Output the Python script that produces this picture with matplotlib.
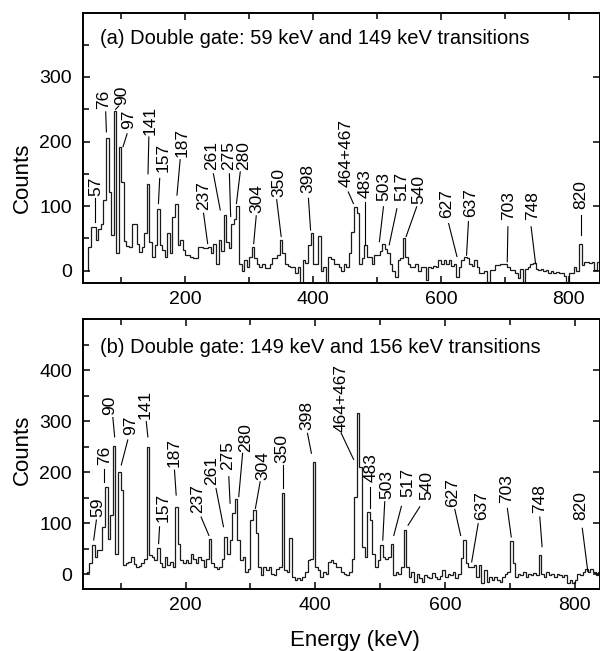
import numpy as np
import matplotlib
matplotlib.use("Agg")
import matplotlib.pyplot as plt
from matplotlib.ticker import MultipleLocator

plt.rcParams['font.family'] = ['Liberation Sans', 'DejaVu Sans']

# 4 keV bins, 48 .. 848 keV
edges = np.arange(48, 852, 4)

# (a) gate on 59 keV and 149 keV
counts_a = [
    37, 68, 67, 48, 64, 72, 110, 205, 122, 56,
    248, 27, 192, 137, 46, 38, 37, 73, 72, 42,
    29, 37, 58, 135, 45, 22, 40, 96, 40, 32,
    22, 58, 27, 83, 104, 40, 48, 32, 24, 24,
    22, 19, 19, 37, 36, 35, 35, 37, 27, 42,
    11, 47, 30, 86, 45, 35, 72, 80, 100, 10,
    0, 16, 6, 22, 37, 19, 10, 6, 11, 4,
    4, 11, 19, 19, 25, 47, 27, 11, 8, 6,
    6, -4, 6, -25, 16, 12, 40, 58, 11, 11,
    53, 0, 6, -25, 22, 18, 11, 11, 6, 0,
    11, 6, 27, 60, 99, 90, 11, 20, 40, 22,
    22, 11, 24, 25, 30, 42, 33, 27, 11, 0,
    -9, 16, 20, 50, 22, 11, 6, 6, 11, 0,
    6, 6, -14, 6, 4, 8, 6, 16, 11, 16,
    11, 16, 8, 11, -9, 6, 16, 21, 20, 11,
    8, 16, 6, -4, -4, 0, -17, 1, 1, 9,
    9, 11, 11, 11, 6, 1, 1, -4, -12, 3,
    -17, 3, 6, 11, 12, 3, 1, 3, 0, 1,
    -3, 0, -4, -2, -4, -3, -8, -17, -4, -3,
    6, 0, 42, 9, 14, 14, 12, 14, 1, 14,
]

# (b) gate on 149 keV and 156 keV
counts_b = [
    5, 21, 57, 34, 48, 47, 93, 170, 68, 116,
    251, 40, 200, 165, 18, 21, 24, 34, 20, 14,
    16, 21, 30, 250, 37, 34, 27, 52, 21, 14,
    34, 18, 24, 14, 132, 60, 27, 21, 27, 21,
    40, 30, 21, 34, 27, 14, 30, 68, 21, 14,
    11, 14, 30, 73, 40, 67, 119, 148, 67, 27,
    33, 5, 11, 106, 125, 80, 14, -2, 14, 8,
    14, 1, -2, 10, 14, 160, 8, 5, 70, -5,
    -12, -8, -12, -5, 5, 27, 30, 220, 14, 8,
    -5, 5, 0, 24, 27, 21, 14, 14, 5, 0,
    -2, 5, 30, 152, 315, 210, 54, 34, 122, 106,
    40, 14, 27, 57, 34, 30, 34, 60, -2, 5,
    1, 14, 86, 14, -5, 5, -15, 1, -8, -15,
    -2, -5, -8, 3, -5, -10, -3, 8, -5, 1,
    -2, 5, -8, 1, 31, 67, 21, 14, 14, 18,
    -5, 18, -18, 8, -15, -5, -12, -5, -12, -15,
    -5, 1, 5, 65, 21, -5, 1, -2, 5, -5,
    1, -2, 3, -2, 37, 1, -5, 5, -2, 1,
    -5, 1, -2, -5, -2, -18, -12, -18, -12, 1,
    -2, 5, 11, 5, 11, 5, -2, 5, 1, 5,
]

# peak labels: text, text x, text bottom y, leader start (x, y), leader end (x, y)
labels_a = [
    ("57", 59.4, 115, 59.4, 112, 59.4, 76),
    ("76", 72, 250, 75.5, 246, 76.6, 215),
    ("90", 101, 256, 96, 255, 91, 250),
    ("97", 111.5, 220, 109, 212, 102.6, 192),
    ("141", 145, 210, 143, 207, 141.7, 150),
    ("157", 166, 153, 160, 143, 158, 104),
    ("187", 195, 176, 192, 172, 187, 117),
    ("237", 228.6, 94, 228.6, 89, 235, 42),
    ("261", 241.0, 156, 244, 150, 254.7, 94),
    ("275", 267.5, 156, 269, 150, 271, 84),
    ("280", 292, 156, 286, 153, 280, 104),
    ("304", 312, 89, 311, 85, 307, 42),
    ("350", 346, 114, 343, 110, 350, 53),
    ("398", 392, 120, 392.7, 112, 396, 63),
    ("464+467", 452, 130, 455, 122, 463, 104),
    ("483", 481, 112, 481, 107, 481, 40),
    ("503", 510, 108, 510, 99, 503.7, 45),
    ("517", 538.7, 108, 531, 96, 519, 40),
    ("540", 565, 104, 562, 99, 545.5, 53),
    ("627", 609, 81, 612, 73, 625, 22),
    ("637", 646, 83, 643, 76, 640, 24),
    ("703", 706, 78, 704.7, 68, 703.7, 14),
    ("748", 743, 78, 741, 68, 748, 11),
    ("820", 819, 96, 819, 86, 819, 55),
]

labels_b = [
    ("59", 65, 112, 62.6, 106, 58.5, 67),
    ("76", 75.4, 214, 74, 207, 74, 181),
    ("90", 83, 312, 88, 307, 90.8, 269),
    ("97", 116, 272, 111, 263, 101, 214),
    ("141", 138, 305, 139.5, 299, 142, 269),
    ("157", 165, 103, 160, 93, 158.5, 60),
    ("187", 183, 210, 183, 204, 185.6, 155),
    ("237", 219, 119, 224, 112, 236, 76),
    ("261", 239.5, 174, 247, 168, 258.5, 93),
    ("275", 265, 204, 266.7, 191, 268.7, 139),
    ("280", 293, 240, 288, 237, 282, 152),
    ("304", 319, 184, 315, 181, 307.7, 129),
    ("350", 349, 217, 350, 214, 350, 168),
    ("398", 386.7, 282, 388, 276, 394, 237),
    ("464+467", 440, 279, 440, 276, 459, 225),
    ("483", 486, 181, 485, 171, 485, 129),
    ("503", 510.5, 148, 507, 142, 504, 67),
    ("517", 543, 151, 532.7, 133, 521, 76),
    ("540", 571.4, 145, 561, 132, 543, 96),
    ("627", 611.7, 132, 615, 127, 624, 76),
    ("637", 656.6, 106, 651, 99, 641, 24),
    ("703", 695, 139, 696, 129, 702, 73),
    ("748", 746, 119, 746, 112, 749.5, 54),
    ("820", 809, 106, 811.5, 90, 820, 5),
]

titles = ["(a) Double gate: 59 keV and 149 keV transitions",
          "(b) Double gate: 149 keV and 156 keV transitions"]


def draw_panel(ax, counts, labels, title, xlim, ylim, yticks, title_y, ylabel_y):
    ax.stairs(counts, edges, color='#1a1a1a', lw=0.9, baseline=0)
    for txt, tx, ty, x0, y0, x1, y1 in labels:
        ax.plot([x0, x1], [y0, y1], color='k', lw=0.8)
        ax.text(tx, ty, txt, rotation=90, ha='center', va='bottom', fontsize=12.5)
    ax.set_xlim(*xlim)
    ax.set_ylim(*ylim)
    ax.set_xticks([200, 400, 600, 800])
    ax.xaxis.set_minor_locator(MultipleLocator(100))
    ax.set_yticks(yticks)
    ax.yaxis.set_minor_locator(MultipleLocator(50))
    ax.tick_params(which='both', direction='in', top=True, bottom=True, left=True,
                   labelsize=14, width=1.1)
    ax.tick_params(which='major', right=True, length=5)
    ax.tick_params(which='minor', right=False, length=4)
    ax.tick_params(axis='y', pad=8)
    ax.tick_params(axis='x', pad=6)
    for sp in ax.spines.values():
        sp.set_linewidth(1.4)
    ax.text(0.033, title_y, title, transform=ax.transAxes, fontsize=14.5,
            ha='left', va='center')
    ax.set_ylabel("Counts", fontsize=16)
    ax.yaxis.set_label_coords(-0.098, ylabel_y)


fig = plt.figure(figsize=(6.0, 6.51), dpi=100)
ax1 = fig.add_axes([83 / 600, 1 - 283 / 651, 516.5 / 600, 270 / 651])
ax2 = fig.add_axes([83 / 600, 1 - 589 / 651, 516.5 / 600, 270 / 651])

draw_panel(ax1, counts_a, labels_a, titles[0], (40, 848), (-19, 399),
           [0, 100, 200, 300], 0.907, 0.39)
draw_panel(ax2, counts_b, labels_b, titles[1], (42, 838), (-29, 500),
           [0, 100, 200, 300, 400], 0.896, 0.515)

ax2.set_xlabel("Energy (keV)", fontsize=16)
ax2.xaxis.set_label_coords(0.527, -0.152)

fig.savefig("out.png", dpi=100)
